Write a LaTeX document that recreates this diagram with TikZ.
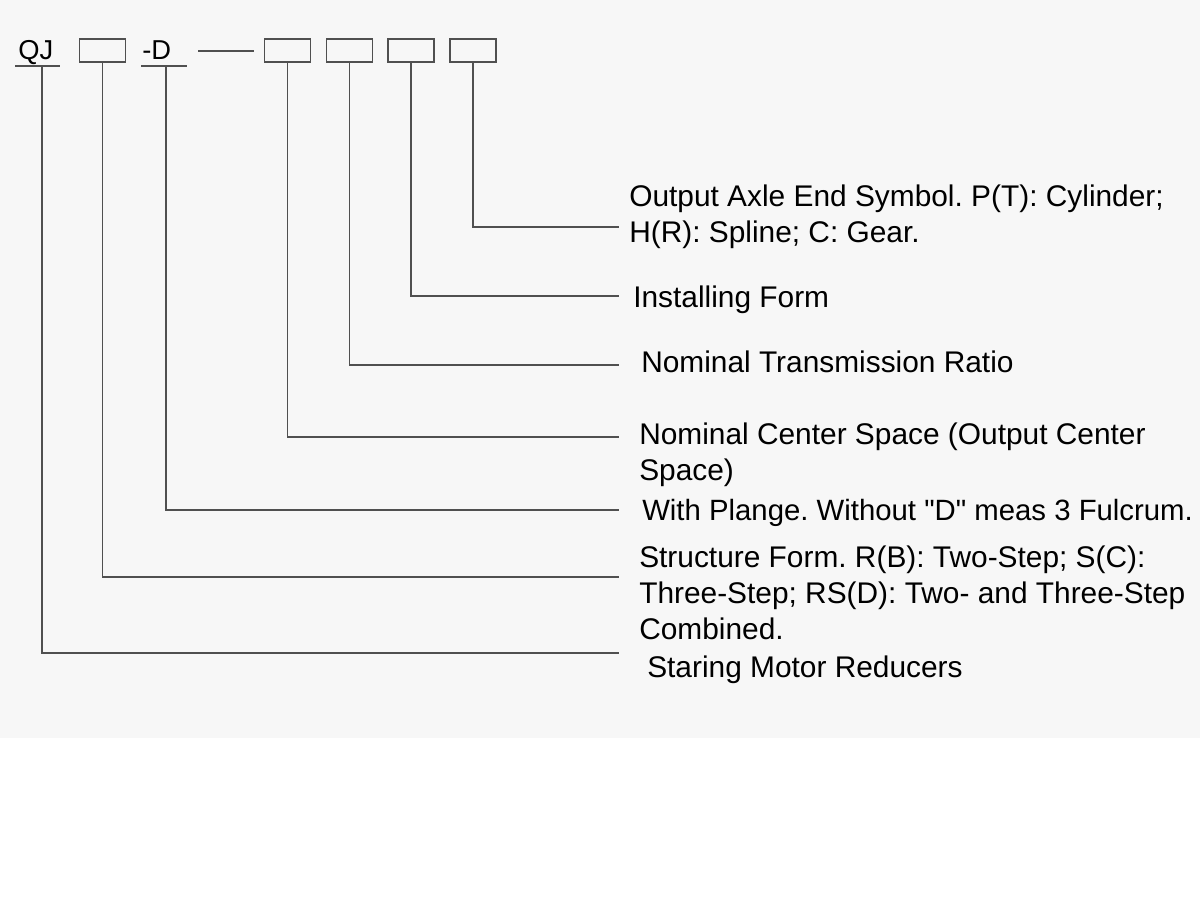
\documentclass[tikz,border=0pt]{standalone}
\usepackage{fontspec}
\setmainfont{Liberation Sans}[Ligatures=TeXOff]
\frenchspacing
\definecolor{bg}{RGB}{247,247,247}
\definecolor{ln}{RGB}{80,80,80}
\begin{document}
\begin{tikzpicture}[x=0.75pt,y=-0.75pt,
  codebox/.style={draw=ln,line width=0.9pt,minimum width=34.5pt,minimum height=17.25pt,inner sep=0pt},
  codetext/.style={inner sep=0pt,anchor=base west,font=\fontsize{20.5}{24}\selectfont},
  label/.style={inner sep=0pt,anchor=base west,font=\fontsize{22.4}{27}\selectfont},
  conn/.style={draw=ln,line width=0.9pt}]
\useasboundingbox (0,0) rectangle (1200,900);
\fill[bg] (0,0) rectangle (1200,738);
% code row
\node[codetext] (qj) at (18,59) {QJ};
\draw[conn] (15,66) -- (60,66);
\coordinate (qju) at (42,66);
\node[codebox] (b1) at (102.5,50.5) {};
\node[codetext] (d) at (142,59) {-D};
\draw[conn] (141,66) -- (187,66);
\coordinate (du) at (166,66);
\coordinate (dashA) at (198,51);
\coordinate (dashB) at (254,51);
\draw[conn] (dashA) -- (dashB);
\node[codebox] (b2) at (287.5,50.5) {};
\node[codebox] (b3) at (349.5,50.5) {};
\node[codebox] (b4) at (411,50.5) {};
\node[codebox] (b5) at (473,50.5) {};
% line ends
\coordinate (e5) at (619,227);
\coordinate (e4) at (619,296);
\coordinate (e3) at (619,365);
\coordinate (e2) at (619,437);
\coordinate (ed) at (619,510);
\coordinate (e1) at (619,577);
\coordinate (eq) at (619,653);
% labels
\node[label] (t5) at (629,206) {Output Axle End Symbol. P(T): Cylinder;};
\node[label] (t5b) at (629,242) {H(R): Spline; C: Gear.};
\node[label] (t4) at (633,307) {Installing Form};
\node[label] (t3) at (641,372) {Nominal Transmission Ratio};
\node[label] (t2) at (639,444) {Nominal Center Space (Output Center};
\node[label] (t2b) at (639,480) {Space)};
\node[label,font=\fontsize{22}{27}\selectfont] (td) at (642,520) {With Plange. Without "D" meas 3 Fulcrum.};
\node[label] (t1) at (639,567) {Structure Form. R(B): Two-Step; S(C):};
\node[label] (t1b) at (639,603) {Three-Step; RS(D): Two- and Three-Step};
\node[label] (t1c) at (639,639) {Combined.};
\node[label] (tq) at (647,677) {Staring Motor Reducers};
% connectors
\draw[conn] (b5.south) |- (e5);
\draw[conn] (b4.south) |- (e4);
\draw[conn] (b3.south) |- (e3);
\draw[conn] (b2.south) |- (e2);
\draw[conn] (du) |- (ed);
\draw[conn] (b1.south) |- (e1);
\draw[conn] (qju) |- (eq);
\end{tikzpicture}
\end{document}
